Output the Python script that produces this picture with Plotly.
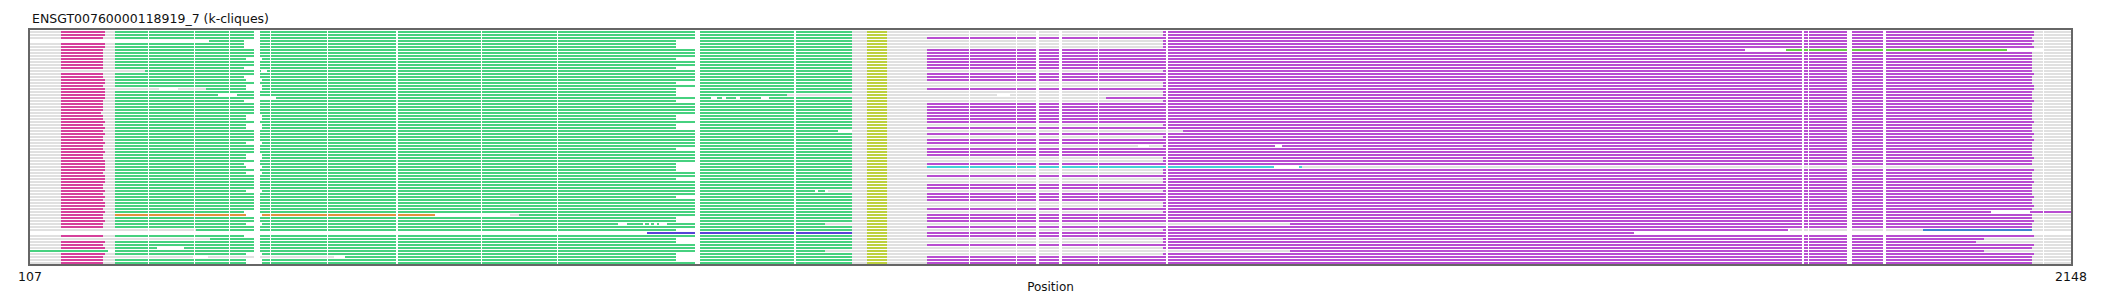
import plotly.graph_objects as go

# ---------------- data ----------------
N_ROWS = 78
X_MIN, X_MAX = 107, 2148
TITLE = "ENSGT00760000118919_7 (k-cliques)"
X_LABEL = "Position"
TICKS = [107, 2148]

COLORS = {
    "gray": "#e0e0e0",
    "pink": "#d6409b",
    "green": "#46d17f",
    "yellow": "#bdd13e",
    "magenta": "#b84dd1",
    "orange": "#e0943c",
    "indigo": "#5644d6",
    "cyan": "#44d0d8",
    "lime": "#68cf45",
    "blue": "#3d82d0",
}

PINK_START = 138
pink_end = [182, 182, 180, 0, 182, 182, 180, 180, 180, 180, 180, 180, 180, 0, 180, 180,
            182, 182, 180, 182, 182, 182, 182, 180, 180, 180, 180, 178, 180, 180, 182, 180,
            182, 180, 182, 180, 180, 182, 180, 180, 182, 180, 180, 182, 182, 182, 182, 180,
            182, 182, 182, 180, 180, 182, 180, 182, 180, 182, 182, 180, 182, 180, 180, 182,
            180, 180, 0, 0, 180, 0, 182, 180, 182, 0, 182, 180, 180, 180]

green_start = [192] * 78
for r, v in {3: 286, 13: 222, 19: 283, 61: 596, 66: 273, 67: 0, 69: 287, 73: 107, 75: 422}.items():
    green_start[r] = v
green_end = [929] * 78
for r, v in {21: 864, 33: 921, 53: 902, 64: 902, 73: 902}.items():
    green_end[r] = v

YELLOW = (944, 964)
yellow_on = [1] * 78

E, L = 1004, 1240
mag_start = [L, L, E, L, L, L, E, E, E, E, E, E, E, L, E, E,
             E, L, L, E, L, L, 1183, L, E, E, E, E, E, E, E, L,
             E, 1260, E, L, E, E, L, E, E, E, L, L, E, 0, L, L,
             E, L, L, E, E, L, E, E, E, L, L, E, L, E, E, E,
             1367, E, L, E, E, L, L, E, L, 1367, L, E, E, E]
mag_end = [2111, 2111, 2109, 2111, 2109, 2111, 1822, 2109, 2109, 2109, 2109, 2109, 2109, 2109, 2111, 2109,
           2109, 2109, 2111, 2111, 2109, 2109, 2109, 2111, 2109, 2109, 2109, 2109, 2109, 2109, 2111, 2109,
           2109, 2109, 2111, 2109, 2111, 2109, 2109, 2109, 2109, 2109, 2111, 2109, 2109, 0, 2111, 2109,
           2109, 2109, 2111, 2109, 2109, 2109, 2109, 2111, 2109, 2109, 2111, 2109, 2068, 2109, 2109, 2111,
           2109, 2109, 1865, 1711, 2111, 2061, 2053, 2111, 2109, 2061, 2111, 2109, 2109, 2109]

# gray background spans per row (default whole row)
gray_span = {3: (286, 2148), 67: (724, 1711)}

# extra coloured segments: (row, start, end, colour)
extra_segments = [
    (6, 1863, 2084, "lime"),
    (45, 1004, 1351, "cyan"),
    (45, 1376, 1379, "cyan"),
    (60, 2107, 2148, "magenta"),
    (61, 192, 512, "orange"),
    (66, 2000, 2109, "blue"),
    (67, 724, 929, "indigo"),
]

# white cuts inside single rows: (row, start, end)
white_cuts = [
    (6, 1822, 1863), (6, 2084, 2120),
    (13, 338, 344),
    (19, 236, 255),
    (21, 295, 314), (21, 1074, 1087),
    (22, 336, 353), (22, 788, 794), (22, 799, 803), (22, 813, 817), (22, 838, 846),
    (33, 915, 929),
    (38, 1215, 1226), (38, 1352, 1359),
    (45, 1351, 1376),
    (53, 892, 895), (53, 902, 905),
    (60, 2068, 2107),
    (61, 512, 587),
    (64, 695, 704), (64, 720, 722), (64, 726, 728), (64, 731, 734), (64, 736, 744),
    (66, 1865, 1867),
    (72, 234, 261),
    (73, 185, 192),
    (75, 270, 285), (75, 411, 422),
]

# alignment gap columns cutting every row: (start, end)
gap_columns = [(225, 226), (271, 272), (306, 307), (347, 348), (404, 405), (473, 475),
               (558, 559), (634, 635), (871, 873), (1046, 1047), (1093, 1094),
               (1113, 1116), (1136, 1139), (1175, 1176), (1243, 1245),
               (1879, 1881), (1885, 1886), (1924, 1929), (1960, 1963), (2120, 2121)]

# row-specific gap widths in two variable columns (0 narrow, 1 wide, 2 shifted)
GAP_A = [(331, 337), (321, 337), (323, 339)]
gap_a_type = [0, 0, 0, 1, 1, 1, 0, 0, 0, 2, 0, 0, 1, 0, 0, 1,
              2, 0, 2, 2, 0, 0, 0, 1, 0, 0, 0, 0, 2, 2, 0, 2,
              2, 0, 0, 0, 0, 2, 0, 0, 0, 2, 2, 0, 1, 2, 0, 2,
              0, 0, 0, 0, 0, 2, 0, 0, 0, 0, 0, 0, 1, 2, 0, 0,
              2, 0, 0, 0, 1, 0, 0, 0, 0, 0, 2, 0, 2, 2]
GAP_B = [(772, 777), (753, 777)]
gap_b_type = [0, 0, 0, 1, 1, 1, 0, 0, 0, 1, 0, 0, 1, 0, 0, 0,
              0, 1, 0, 1, 1, 1, 0, 1, 0, 0, 0, 0, 1, 1, 0, 1,
              1, 0, 0, 0, 0, 0, 0, 1, 0, 0, 0, 0, 1, 1, 1, 0,
              0, 1, 0, 0, 0, 0, 0, 1, 0, 0, 0, 0, 0, 0, 1, 1,
              0, 0, 1, 0, 0, 1, 1, 0, 0, 0, 1, 1, 1, 0]


# ---------------- helpers ----------------
def subtract(seg, cuts):
    out = [seg]
    for c0, c1 in cuts:
        nxt = []
        for a, b in out:
            if c1 <= a or c0 >= b:
                nxt.append((a, b))
                continue
            if c0 > a:
                nxt.append((a, c0))
            if c1 < b:
                nxt.append((c1, b))
        out = nxt
    return out


segments = {k: [] for k in COLORS}

for r in range(N_ROWS):
    cuts = list(gap_columns) + [GAP_A[gap_a_type[r]], GAP_B[gap_b_type[r]]]
    cuts += [(a, b) for (rr, a, b) in white_cuts if rr == r]
    row_segs = []
    g0, g1 = gray_span.get(r, (X_MIN, X_MAX))
    row_segs.append(("gray", g0, g1))
    if pink_end[r]:
        row_segs.append(("pink", PINK_START, pink_end[r]))
    if green_start[r]:
        row_segs.append(("green", green_start[r], green_end[r]))
    if yellow_on[r]:
        row_segs.append(("yellow", YELLOW[0], YELLOW[1]))
    if mag_start[r]:
        row_segs.append(("magenta", mag_start[r], mag_end[r]))
    for (rr, a, b, col) in extra_segments:
        if rr == r:
            row_segs.append((col, a, b))
    for col, a, b in row_segs:
        for s in subtract((a, b), cuts):
            segments[col].append((r, s[0], s[1]))

fig = go.Figure()
order = ["gray", "pink", "green", "yellow", "magenta", "orange", "indigo", "cyan", "lime", "blue"]
for col in order:
    xs, ys = [], []
    for r, a, b in segments[col]:
        xs += [a, b, None]
        ys += [r, r, None]
    fig.add_trace(go.Scatter(x=xs, y=ys, mode="lines", hoverinfo="skip",
                             line=dict(color=COLORS[col], width=2), showlegend=False))

FONT = "DejaVu Sans"
frame = "rgba(0,0,0,0.6)"
# plot area: x 30..2071 (1 px per position), y 30..264 (3 px per row)
fig.update_layout(
    width=2101, height=294,
    margin=dict(l=30, r=30, t=30, b=30, autoexpand=False),
    paper_bgcolor="white", plot_bgcolor="white",
    font=dict(family=FONT, size=12, color="#222"),
    xaxis=dict(range=[X_MIN, X_MAX], tickvals=TICKS, ticktext=[str(t) for t in TICKS],
               ticks="", showgrid=False, zeroline=False, showline=True, mirror=True,
               automargin=False,
               linecolor=frame, linewidth=2, tickfont=dict(size=12.5, color="#111"),
               title=dict(text=X_LABEL, font=dict(size=12, color="#111"), standoff=6)),
    yaxis=dict(range=[77 + 1 / 3, -2 / 3], showticklabels=False, ticks="", showgrid=False,
               automargin=False,
               zeroline=False, showline=True, mirror=True, linecolor=frame, linewidth=2),
    annotations=[dict(text=TITLE, xref="paper", yref="paper", x=0, y=1, xanchor="left",
                      yanchor="bottom", yshift=2, showarrow=False,
                      font=dict(size=12.5, color="#111", family=FONT))],
)

fig.write_html("out.html")
